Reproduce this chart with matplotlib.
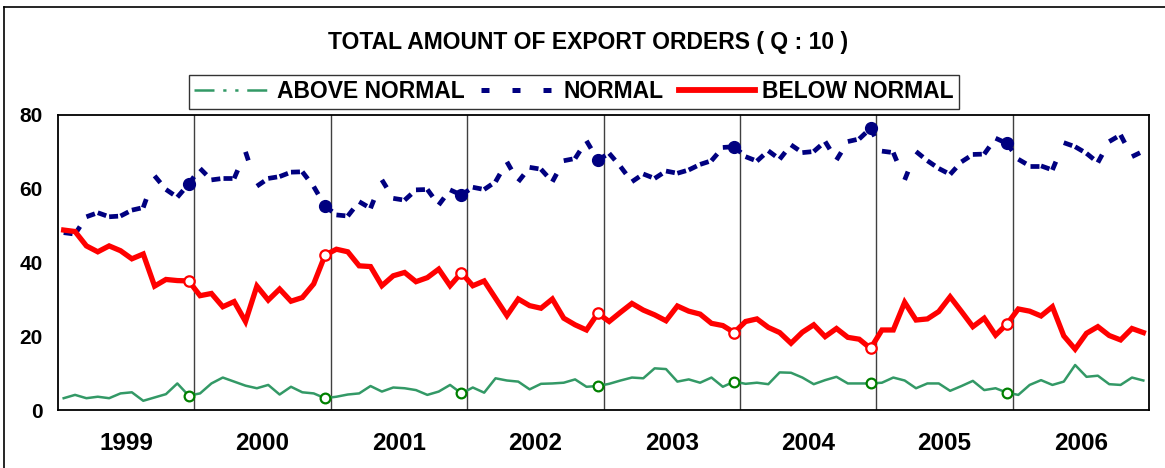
import numpy as np
import matplotlib
matplotlib.use("Agg")
from matplotlib import pyplot as plt
from matplotlib.lines import Line2D

years = ["1999", "2000", "2001", "2002", "2003", "2004", "2005", "2006"]

# monthly values, one row per year
above = [
    3.2, 4.1, 3.2, 3.6, 3.2, 4.5, 4.8, 2.5, 3.4, 4.3, 7.2, 3.9,
    4.5, 7.2, 8.8, 7.7, 6.6, 5.9, 6.8, 4.2, 6.3, 4.8, 4.5, 3.2,
    3.6, 4.2, 4.5, 6.5, 5.0, 6.1, 5.9, 5.4, 4.1, 5.0, 6.8, 4.5,
    6.1, 4.7, 8.6, 8.0, 7.7, 5.6, 7.1, 7.2, 7.4, 8.3, 6.3, 6.5,
    7.1, 8.0, 8.8, 8.6, 11.3, 11.1, 7.7, 8.3, 7.4, 8.8, 6.3, 7.7,
    7.1, 7.4, 7.0, 10.2, 10.1, 8.8, 7.0, 8.1, 9.0, 7.2, 7.2, 7.2,
    7.4, 8.8, 8.0, 5.9, 7.2, 7.2, 5.2, 6.5, 7.9, 5.4, 5.9, 4.7,
    4.1, 6.8, 8.1, 6.8, 7.7, 12.2, 9.0, 9.3, 7.0, 6.8, 8.8, 8.0,
]
normal = [
    48.1, 47.7, 52.4, 53.5, 52.4, 52.6, 54.2, 54.9, 63.5, 59.8, 57.7, 61.3,
    65.5, 62.4, 62.8, 62.8, 70.0, 60.7, 62.8, 63.3, 64.5, 64.6, 60.6, 55.3,
    52.9, 52.6, 56.5, 54.7, 62.4, 57.4, 56.9, 59.7, 59.8, 55.6, 59.7, 58.3,
    60.4, 59.8, 61.9, 67.3, 61.9, 65.8, 65.3, 61.9, 67.6, 68.2, 73.0, 67.8,
    69.6, 66.0, 61.9, 64.0, 62.8, 64.8, 64.2, 65.1, 66.6, 67.6, 71.2, 71.4,
    68.7, 67.5, 70.3, 68.0, 71.9, 69.8, 70.1, 72.8, 67.8, 72.8, 73.5, 76.4,
    70.2, 69.8, 62.4, 70.1, 67.6, 65.5, 63.9, 67.3, 69.3, 69.4, 73.7, 72.3,
    68.0, 66.2, 66.2, 65.1, 72.5, 71.4, 69.6, 67.1, 72.8, 74.6, 68.7, 70.2,
]
below = [
    48.8, 48.4, 44.5, 42.9, 44.5, 43.2, 41.0, 42.3, 33.6, 35.4, 35.1, 35.0,
    31.0, 31.6, 28.0, 29.4, 24.0, 33.6, 29.8, 32.8, 29.5, 30.5, 34.2, 42.0,
    43.6, 42.9, 39.1, 38.9, 33.7, 36.4, 37.3, 34.8, 35.9, 38.2, 33.7, 37.2,
    33.7, 35.0, 30.3, 25.6, 30.1, 28.3, 27.6, 30.1, 24.9, 23.1, 21.7, 26.2,
    24.0, 26.5, 28.9, 27.1, 25.8, 24.2, 28.2, 26.8, 26.0, 23.5, 22.9, 21.0,
    24.0, 24.7, 22.4, 21.0, 18.1, 21.1, 23.1, 19.9, 22.1, 19.7, 19.2, 16.7,
    21.7, 21.7, 29.2, 24.4, 24.7, 26.7, 30.7, 26.7, 22.6, 24.9, 20.3, 23.3,
    27.4, 26.8, 25.5, 28.0, 20.1, 16.5, 20.8, 22.6, 20.2, 19.0, 22.1, 21.0,
]
# december of 1999..2005 carries a marker
marked = [11, 23, 35, 47, 59, 71, 83]

GREEN = "#339966"
NAVY = "#000080"
RED = "#ff0000"

plt.rcParams["font.family"] = ["Liberation Sans", "DejaVu Sans"]
plt.rcParams["font.weight"] = "bold"

fig = plt.figure(figsize=(11.65, 4.68), dpi=100)
ax = fig.add_axes([58 / 1165, 1 - 410 / 468, (1149 - 58) / 1165, (410 - 115) / 468])

x = np.arange(len(below)) + 0.5

# above normal
ax.plot(x, above, color=GREEN, lw=1.8, zorder=3)
ax.plot(x[marked], np.array(above)[marked], ls="none", marker="o", ms=7,
        mfc="white", mec="#008000", mew=1.6, zorder=4)

# normal: dash pattern restarts on every segment
for i in range(len(normal) - 1):
    ax.plot(x[i:i + 2], normal[i:i + 2], color=NAVY, lw=3.4,
            ls=(0, (1.9, 9)), dash_capstyle="butt", zorder=3)
ax.plot(x[marked], np.array(normal)[marked], ls="none", marker="o", ms=8.5,
        mfc=NAVY, mec=NAVY, zorder=4)

# below normal
ax.plot(x, below, color=RED, lw=3.8, solid_joinstyle="miter", zorder=5)
ax.plot(x[marked], np.array(below)[marked], ls="none", marker="o", ms=7.5,
        mfc="white", mec=RED, mew=1.6, zorder=6)

for k in range(1, len(years)):
    ax.axvline(12 * k, color="#404040", lw=1, zorder=1)

ax.set_xlim(0, 12 * len(years))
ax.set_ylim(0, 80)
ax.set_yticks([0, 20, 40, 60, 80])
ax.set_xticks(np.arange(len(years)) * 12 + 6)
ax.set_xticklabels(years, fontsize=17.5, fontweight="bold")
ax.tick_params(axis="x", length=0, pad=16)
ax.tick_params(axis="y", length=0, pad=11, labelsize=15)
for s in ax.spines.values():
    s.set_linewidth(1.3)
    s.set_color("black")

fig.text(588 / 1165, 1 - 42 / 468, "TOTAL AMOUNT OF EXPORT ORDERS ( Q : 10 )",
         ha="center", va="center", fontsize=16.5, fontweight="bold")

handles = [
    Line2D([], [], color=GREEN, lw=1.8, ls=(0, (8, 3.5, 1.3, 3.5, 1.3, 3.5))),
    Line2D([], [], color=NAVY, lw=3.6, ls=(0, (1.6, 4.6)), dash_capstyle="butt"),
    Line2D([], [], color=RED, lw=4.2),
]
leg = fig.legend(handles, ["ABOVE NORMAL", "NORMAL", "BELOW NORMAL"],
                 loc="center", bbox_to_anchor=(574 / 1165, 1 - 92 / 468), ncol=3,
                 frameon=True, fancybox=False, edgecolor="black", fontsize=16.5,
                 handlelength=3.3, handletextpad=0.3, columnspacing=0.7,
                 borderpad=0.25, borderaxespad=0)
leg.get_frame().set_linewidth(1.0)

# outer chart border
fig.add_artist(Line2D([4 / 1165, 4 / 1165], [0, 1 - 7 / 468], color="black", lw=1.2))
fig.add_artist(Line2D([4 / 1165, 1], [1 - 7 / 468, 1 - 7 / 468], color="black", lw=1.2))

fig.savefig("out.png", dpi=100)
